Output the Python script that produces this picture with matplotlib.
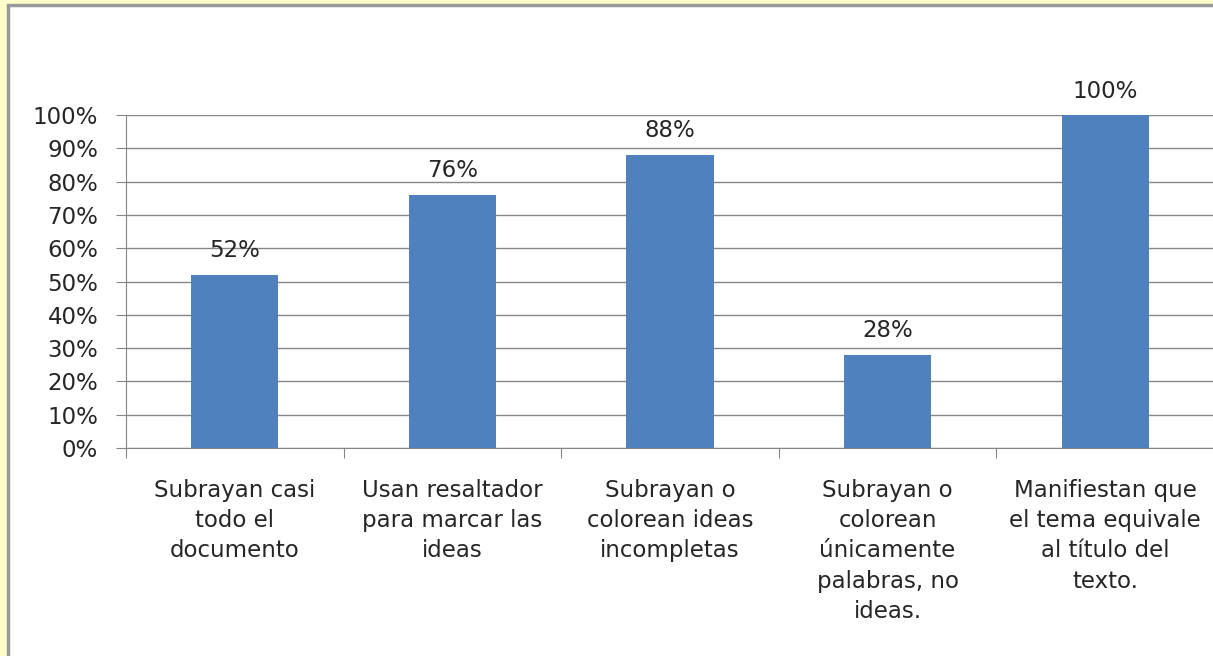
import numpy as np
import matplotlib
matplotlib.use('Agg')
import matplotlib.pyplot as plt
from matplotlib.patches import Rectangle
from matplotlib.ticker import PercentFormatter

categories = ["Subrayan casi\ntodo el\ndocumento",
              "Usan resaltador\npara marcar las\nideas",
              "Subrayan o\ncolorean ideas\nincompletas",
              "Subrayan o\ncolorean\núnicamente\npalabras, no\nideas.",
              "Manifiestan que\nel tema equivale\nal título del\ntexto."]
values = [0.52, 0.76, 0.88, 0.28, 1.00]
value_labels = ["52%", "76%", "88%", "28%", "100%"]

plt.rcParams['font.family'] = ['DejaVu Sans']
grey = '#868686'
fs = 16.5

fig = plt.figure(figsize=(12.13, 6.56), dpi=100, facecolor='#FFFFCC')
# white chart area with grey frame, cut off at right and bottom
fig.patches.append(Rectangle((8/1213, -0.05), 1.1, 1.05 - 5/656, transform=fig.transFigure,
                             facecolor='white', edgecolor='#9A9A9A', linewidth=2.5, zorder=-5))

ax = fig.add_axes([126/1213, 1 - 448/656, 1088/1213, 333/656])
ax.set_facecolor('none')
x = np.arange(len(values))
bars = ax.bar(x, values, width=0.4, color='#4F81BD', zorder=3)
ax.bar_label(bars, labels=value_labels, padding=9, fontsize=fs, color='#262626')

ax.set_xlim(-0.5, len(values) - 0.5)
ax.set_ylim(0, 1)
ax.set_yticks(np.arange(0, 1.01, 0.1))
ax.yaxis.set_major_formatter(PercentFormatter(1.0, decimals=0))
ax.yaxis.grid(True, color=grey, linewidth=1, zorder=0)

ax.set_xticks(np.arange(-0.5, len(values), 1.0))
ax.set_xticklabels([])
ax.set_xticks(x, minor=True)
ax.set_xticklabels(categories, minor=True, fontsize=fs, color='#262626', linespacing=1.41)
ax.tick_params(axis='x', which='major', length=7, color=grey, direction='out')
ax.tick_params(axis='x', which='minor', length=0, pad=22)
ax.tick_params(axis='y', length=7, color=grey, labelsize=fs, labelcolor='#262626', pad=13)

for s in ['top', 'right']:
    ax.spines[s].set_visible(False)
for s in ['left', 'bottom']:
    ax.spines[s].set_color(grey)

fig.savefig('out.png', dpi=100, facecolor=fig.get_facecolor())
